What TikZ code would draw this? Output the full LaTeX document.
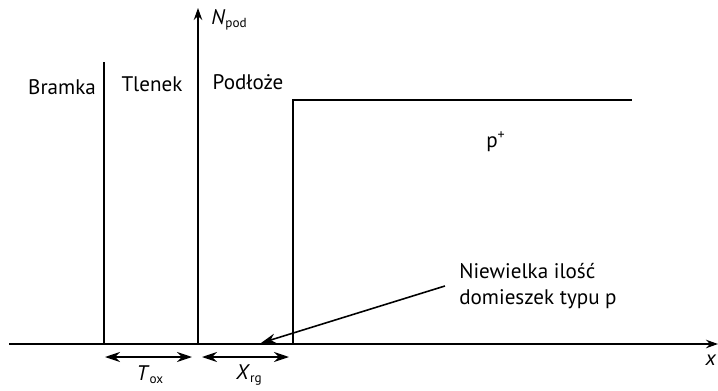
\documentclass[tikz,border=0pt]{standalone}
\usepackage{fontspec}
\setmainfont{PT Sans}
\usetikzlibrary{arrows.meta}
\newcommand{\lowsub}[1]{\raisebox{-1.8pt}{\fontsize{7.5}{9}\selectfont #1}}

\begin{document}
\begin{tikzpicture}[x=0.02cm, y=0.02cm,
    font=\fontsize{12}{14}\selectfont,
    line/.style={line width=0.9pt},
    axis/.style={line, -{Stealth[length=2.4mm, width=1.7mm]}},
    dim/.style={line, {Stealth[length=3mm, width=2mm]}-{Stealth[length=3mm, width=2mm]}},
    note/.style={line, -{Stealth[length=3mm, width=2mm]}}]
    \useasboundingbox (0,0) rectangle (718,390);

    % Axes
    \coordinate (xstart) at (9,46);
    \coordinate (xend) at (718,46);
    \coordinate (origin) at (198,46);
    \coordinate (ytop) at (198,382);
    \draw[axis] (xstart) -- (xend);
    \draw[axis] (origin) -- (ytop);
    \node (xlab) at (711,30) {\textit{x}};
    \node[anchor=west, inner sep=0pt] (ylab) at (211,370) {\textit{N}\lowsub{pod}};

    % Gate / oxide boundary
    \coordinate (gatebot) at (104,46);
    \coordinate (gatetop) at (104,328);
    \draw[line] (gatebot) -- (gatetop);

    % Doping profile
    \coordinate (stepbot) at (293,46);
    \coordinate (stepcorner) at (293,290);
    \coordinate (stepend) at (632,290);
    \draw[line] (stepbot) -- (stepcorner) -- (stepend);
    \node (pplus) at (496,248) {p\textsuperscript{+}};

    % Region labels
    \node (gate) at (62,303) {Bramka};
    \node (oxide) at (152,306) {Tlenek};
    \node (subst) at (248,308) {Podłoże};

    % Annotations
    \coordinate (toxl) at (105,33);
    \coordinate (toxr) at (192,33);
    \draw[dim] (toxl) -- (toxr);
    \node (tox) at (150,15) {\textit{T}\lowsub{ox}};
    \coordinate (xrgl) at (202,33);
    \coordinate (xrgr) at (289,33);
    \draw[dim] (xrgl) -- (xrgr);
    \node (xrg) at (249,15) {\textit{X}\lowsub{rg}};

    \node[anchor=west, align=left, inner sep=0pt, font=\fontsize{12}{14.5}\selectfont] (desc) at (459,104) {Niewielka ilość\\domieszek typu p};
    \coordinate (tip) at (261,47);
    \draw[note] ([xshift=-8]desc.west) -- (tip);
\end{tikzpicture}
\end{document}
